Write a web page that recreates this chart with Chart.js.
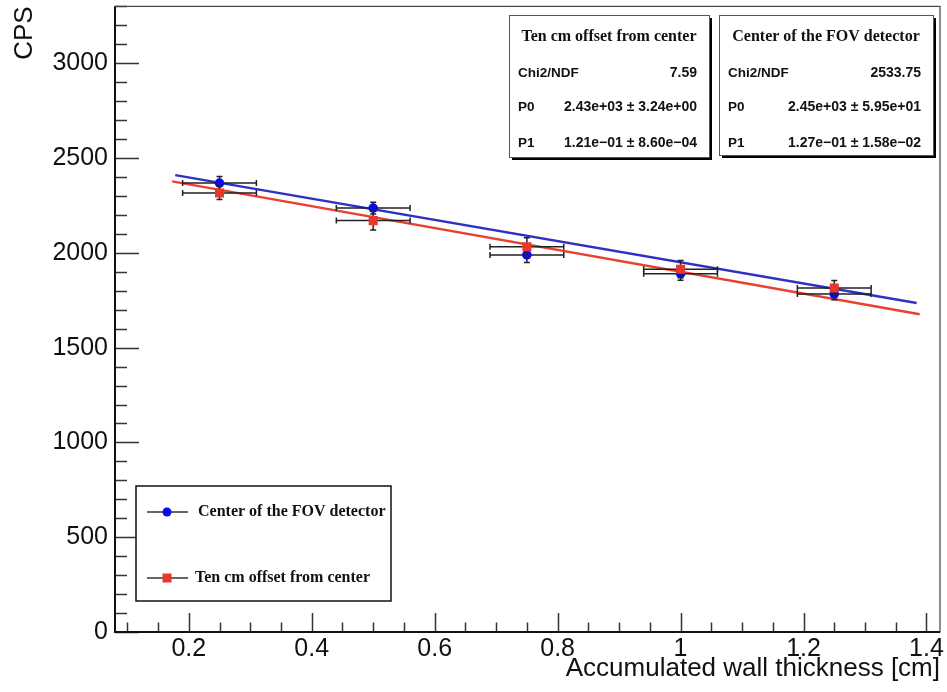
<!DOCTYPE html>
<html>
<head>
<meta charset="utf-8">
<script src="https://cdn.jsdelivr.net/npm/chart.js@4.4.1/dist/chart.umd.min.js"></script>
<style>
    html, body { margin: 0; padding: 0; background: #fff; }
    canvas { display: block; }
</style>
</head>
<body>
<canvas id="chart" width="947" height="692"></canvas>
<script>
// measured points, x in cm
const thickness = [0.25, 0.5, 0.75, 1.0, 1.25];
const thicknessErr = [0.06, 0.06, 0.06, 0.06, 0.06];

const centerCps = [2368, 2236, 1989, 1890, 1783];
const centerErr = [35, 31, 40, 35, 31];

const offsetCps = [2316, 2170, 2032, 1914, 1815];
const offsetErr = [35, 49, 47, 45, 39];

// fit line ends
const centerFitX = [0.178, 1.384];
const centerFitY = [2410, 1735];
const offsetFitX = [0.173, 1.389];
const offsetFitY = [2377, 1676];

const xTicks = [0.2, 0.4, 0.6, 0.8, 1, 1.2, 1.4];
const yTicks = [0, 500, 1000, 1500, 2000, 2500, 3000];

const seriesNames = ['Center of the FOV detector', 'Ten cm offset from center'];

const offsetStats = ['Ten cm offset from center', '7.59', '2.43e+03 \u00b1 3.24e+00', '1.21e\u221201 \u00b1 8.60e\u221204'];
const centerStats = ['Center of the FOV detector', '2533.75', '2.45e+03 \u00b1 5.95e+01', '1.27e\u221201 \u00b1 1.58e\u221202'];

const BLUE = '#0a0ae6';
const BLUE_LINE = '#3030c4';
const RED = '#e8372b';
const RED_LINE = '#e8412f';
const SANS = '"Liberation Sans", Arial, Helvetica, sans-serif';
const SERIF = '"Liberation Serif", "Times New Roman", serif';

const zip = (xs, ys) => xs.map((x, i) => ({ x, y: ys[i] }));

const errorBars = {
    id: 'errorBars',
    beforeDatasetDraw(chart, args) {
        const ds = chart.data.datasets[args.index];
        if (!ds.yErr) return;
        const { ctx, scales: { x, y } } = chart;
        ctx.save();
        ctx.strokeStyle = '#222';
        ctx.lineWidth = 1.5;
        ds.data.forEach((p, i) => {
            const px = x.getPixelForValue(p.x);
            const py = y.getPixelForValue(p.y);
            const x0 = x.getPixelForValue(p.x - ds.xErr[i]);
            const x1 = x.getPixelForValue(p.x + ds.xErr[i]);
            const y0 = y.getPixelForValue(p.y - ds.yErr[i]);
            const y1 = y.getPixelForValue(p.y + ds.yErr[i]);
            ctx.beginPath();
            ctx.moveTo(x0, py); ctx.lineTo(x1, py);
            ctx.moveTo(x0, py - 3); ctx.lineTo(x0, py + 3);
            ctx.moveTo(x1, py - 3); ctx.lineTo(x1, py + 3);
            ctx.moveTo(px, y0); ctx.lineTo(px, y1);
            ctx.moveTo(px - 3, y0); ctx.lineTo(px + 3, y0);
            ctx.moveTo(px - 3, y1); ctx.lineTo(px + 3, y1);
            ctx.stroke();
        });
        ctx.restore();
    }
};

// ROOT style frame with inward ticks
const frame = {
    id: 'frame',
    afterDatasetsDraw(chart) {
        const { ctx, chartArea: a, scales: { x, y } } = chart;
        ctx.save();
        ctx.strokeStyle = '#333';
        ctx.lineWidth = 1.5;
        ctx.beginPath();
        for (let v = 0; v <= y.max + 1e-6; v += 100) {
            const py = Math.round(y.getPixelForValue(v)) + 0.5;
            const len = v % 500 === 0 ? 24 : 12;
            ctx.moveTo(a.left, py); ctx.lineTo(a.left + len, py);
        }
        for (let k = 2; k * 0.05 <= x.max; k++) {
            const px = Math.round(x.getPixelForValue(k * 0.05)) + 0.5;
            const len = k % 4 === 0 ? 19 : 9.5;
            ctx.moveTo(px, a.bottom); ctx.lineTo(px, a.bottom - len);
        }
        ctx.stroke();

        ctx.strokeStyle = '#444';
        ctx.lineWidth = 1.2;
        ctx.strokeRect(a.left, a.top, a.right - a.left, a.bottom - a.top);
        ctx.strokeStyle = '#111';
        ctx.lineWidth = 2;
        ctx.beginPath();
        ctx.moveTo(a.left, a.top); ctx.lineTo(a.left, a.bottom); ctx.lineTo(a.right, a.bottom);
        ctx.stroke();
        ctx.restore();
    }
};

function statBox(ctx, left, top, right, bottom, stats) {
    ctx.fillStyle = '#000';
    ctx.fillRect(left + 3, top + 3, right - left, bottom - top);
    ctx.fillStyle = '#fff';
    ctx.fillRect(left, top, right - left, bottom - top);
    ctx.strokeStyle = '#555';
    ctx.lineWidth = 1;
    ctx.strokeRect(left + 0.5, top + 0.5, right - left, bottom - top);

    ctx.fillStyle = '#111';
    ctx.textBaseline = 'middle';
    ctx.textAlign = 'center';
    ctx.font = 'bold 16px ' + SERIF;
    ctx.fillText(stats[0], (left + right) / 2, top + 22);

    const rows = [['Chi2/NDF', stats[1], 58], ['P0', stats[2], 92], ['P1', stats[3], 128]];
    for (const [label, value, dy] of rows) {
        ctx.font = 'bold 13.5px ' + SANS;
        ctx.textAlign = 'left';
        ctx.fillText(label, left + 9, top + dy);
        ctx.font = 'bold 14px ' + SANS;
        ctx.textAlign = 'right';
        ctx.fillText(value, right - 12, top + dy);
    }
}

const boxes = {
    id: 'boxes',
    afterDraw(chart) {
        const { ctx } = chart;
        ctx.save();
        statBox(ctx, 509, 15, 709, 157, offsetStats);
        statBox(ctx, 719, 15, 933, 155, centerStats);

        // legend
        ctx.fillStyle = '#fff';
        ctx.fillRect(136, 486, 255, 115);
        ctx.strokeStyle = '#111';
        ctx.lineWidth = 1.5;
        ctx.strokeRect(136, 486, 255, 115);

        const rowsY = [512, 578];
        ctx.font = 'bold 16px ' + SERIF;
        ctx.textAlign = 'left';
        ctx.textBaseline = 'middle';
        rowsY.forEach((ry, i) => {
            ctx.strokeStyle = '#333';
            ctx.lineWidth = 1.5;
            ctx.beginPath();
            ctx.moveTo(147, ry); ctx.lineTo(188, ry);
            ctx.stroke();
            if (i === 0) {
                ctx.fillStyle = BLUE;
                ctx.beginPath();
                ctx.arc(167, ry, 4.5, 0, Math.PI * 2);
                ctx.fill();
            } else {
                ctx.fillStyle = RED;
                ctx.fillRect(162.5, ry - 4.5, 9, 9);
            }
            ctx.fillStyle = '#111';
            ctx.fillText(seriesNames[i], i === 0 ? 198 : 195, ry);
        });
        ctx.restore();
    }
};

new Chart(document.getElementById('chart'), {
    type: 'scatter',
    data: {
        datasets: [
            {
                data: zip(centerFitX, centerFitY),
                showLine: true,
                borderColor: BLUE_LINE,
                borderWidth: 2.5,
                pointRadius: 0,
                order: 4,
            },
            {
                data: zip(offsetFitX, offsetFitY),
                showLine: true,
                borderColor: RED_LINE,
                borderWidth: 2.5,
                pointRadius: 0,
                order: 3,
            },
            {
                label: seriesNames[0],
                data: zip(thickness, centerCps),
                xErr: thicknessErr,
                yErr: centerErr,
                pointStyle: 'circle',
                pointRadius: 4.8,
                backgroundColor: BLUE,
                borderColor: BLUE,
                borderWidth: 0,
                order: 2,
            },
            {
                label: seriesNames[1],
                data: zip(thickness, offsetCps),
                xErr: thicknessErr,
                yErr: offsetErr,
                pointStyle: 'rect',
                pointRadius: 6.4,
                backgroundColor: RED,
                borderColor: RED,
                borderWidth: 0,
                order: 1,
            },
        ],
    },
    options: {
        responsive: false,
        animation: false,
        layout: { padding: { top: 3, right: 7, left: 0, bottom: 0 } },
        plugins: {
            legend: { display: false },
            tooltip: { enabled: false },
        },
        scales: {
            x: {
                type: 'linear',
                min: 0.08,
                max: 1.422,
                grid: { display: false, drawTicks: false, tickLength: 0 },
                border: { display: false },
                afterBuildTicks: s => { s.ticks = xTicks.map(value => ({ value })); },
                afterFit: s => { s.height = 60; s.paddingLeft = 0; s.paddingRight = 0; },
                ticks: {
                    autoSkip: false,
                    maxRotation: 0,
                    padding: 2,
                    color: '#111',
                    font: { family: SANS, size: 25 },
                    callback: v => String(v),
                },
                title: {
                    display: true,
                    text: 'Accumulated wall thickness [cm]',
                    align: 'end',
                    color: '#111',
                    font: { family: SANS, size: 26 },
                    padding: { top: 0, bottom: 8 },
                },
            },
            y: {
                type: 'linear',
                min: 0,
                max: 3300,
                grid: { display: false, drawTicks: false, tickLength: 0 },
                border: { display: false },
                afterBuildTicks: s => { s.ticks = yTicks.map(value => ({ value })); },
                afterFit: s => { s.width = 115; s.paddingTop = 0; s.paddingBottom = 0; },
                ticks: {
                    autoSkip: false,
                    padding: 7,
                    color: '#111',
                    font: { family: SANS, size: 25 },
                    callback: v => String(v),
                },
                title: {
                    display: true,
                    text: 'CPS',
                    align: 'end',
                    color: '#111',
                    font: { family: SANS, size: 26 },
                    padding: { top: 9, bottom: 0 },
                },
            },
        },
    },
    plugins: [errorBars, frame, boxes],
});
</script>
</body>
</html>
